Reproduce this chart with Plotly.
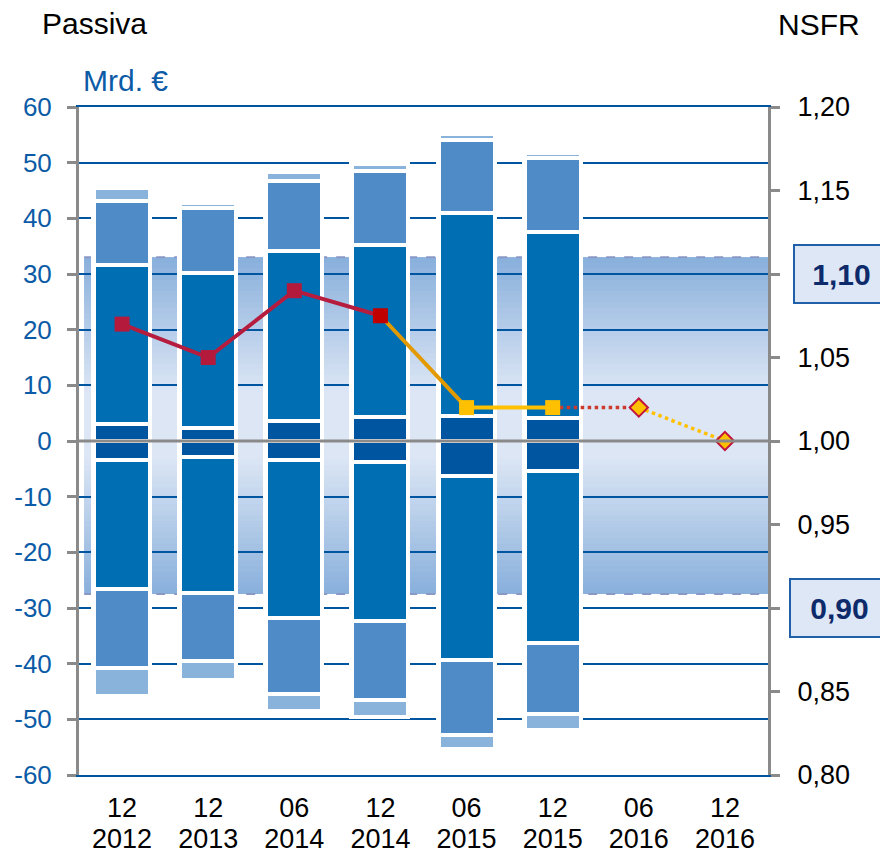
import plotly.graph_objects as go

# ---------------- data ----------------
months = ["12", "12", "06", "12", "06", "12", "06", "12"]
years = ["2012", "2013", "2014", "2014", "2015", "2015", "2016", "2016"]

# Passiva components (Mrd. €), stacked outward from zero
pos_darkest = [3.1, 2.3, 3.6, 4.4, 4.55, 4.2, None, None]
pos_dark = [28.5, 27.8, 30.6, 30.9, 36.4, 33.4, None, None]
pos_medium = [11.5, 11.7, 12.55, 13.15, 13.05, 13.3, None, None]
pos_light = [2.4, 0.9, 1.6, 1.3, 1.1, 0.9, None, None]

neg_darkest = [-3.4, -2.8, -3.4, -3.85, -6.3, -5.3, None, None]
neg_dark = [-23.2, -24.45, -28.45, -28.4, -33.1, -30.9, None, None]
neg_medium = [-14.1, -12.25, -13.6, -14.2, -13.5, -12.8, None, None]
neg_light = [-5.1, -3.4, -3.05, -3.15, -2.5, -2.9, None, None]

# NSFR ratio (right axis)
nsfr = [1.07, 1.05, 1.09, 1.075, 1.02, 1.02, 1.02, 1.00]

# target corridor (left-axis units)
band_top = 33.0
band_bottom = -27.5

left_ticks = [-60, -50, -40, -30, -20, -10, 0, 10, 20, 30, 40, 50, 60]
left_ticktext = ["-60", "-50", "-40", "-30", "-20", "-10", "0",
                 "10", "20", "30", "40", "50", "60"]
right_ticks = [0.80, 0.85, 0.90, 0.95, 1.00, 1.05, 1.10, 1.15, 1.20]
right_ticktext = ["0,80", "0,85", "", "0,95", "1,00", "1,05", "", "1,15", "1,20"]
boxed_ticks = [1.10, 0.90]
boxed_text = ["1,10", "0,90"]

# ---------------- styling ----------------
FONT = "Liberation Sans, Arial, sans-serif"
C_DARKEST = "#0055a0"
C_DARK = "#006eb3"
C_MED = "#4f8bc6"
C_LIGHT = "#8ab3dc"
GRID = "#0055a0"
GRAY = "#8a8a8a"
BLUE_TXT = "#0b5ba6"

n = len(months)
x = list(range(n))
span = "<span style='font-size:27px'>%s</span>"
categories = [span % m + "<br>" + span % y for m, y in zip(months, years)]

fig = go.Figure()


def stacked(layers):
    cum = [0.0] * n
    out = []
    for layer in layers:
        bases = []
        for i, v in enumerate(layer):
            if v is None:
                bases.append(None)
            else:
                bases.append(cum[i])
                cum[i] += v
        out.append(bases)
    return out, cum


pos_layers = [pos_darkest, pos_dark, pos_medium, pos_light]
neg_layers = [neg_darkest, neg_dark, neg_medium, neg_light]
colors = [C_DARKEST, C_DARK, C_MED, C_LIGHT]
pos_bases, pos_tot = stacked(pos_layers)
neg_bases, neg_tot = stacked(neg_layers)

# white frame behind each stack
fx, fy, fb = [], [], []
for i in range(n):
    if pos_darkest[i] is None:
        continue
    fx.append(x[i])
    fb.append(neg_tot[i] + 0.3)
    fy.append(pos_tot[i] - neg_tot[i] - 0.6)
fig.add_trace(go.Bar(x=fx, y=fy, base=fb, width=0.604,
                     marker=dict(color="white", line=dict(color="white", width=9)),
                     showlegend=False, hoverinfo="skip"))

for layers, bases in ((pos_layers, pos_bases), (neg_layers, neg_bases)):
    for vals, b, col in zip(layers, bases, colors):
        xs = [x[i] for i in range(n) if vals[i] is not None]
        ys = [vals[i] for i in range(n) if vals[i] is not None]
        bs = [b[i] for i in range(n) if vals[i] is not None]
        fig.add_trace(go.Bar(x=xs, y=ys, base=bs, width=0.65,
                             marker=dict(color=col, line=dict(color="white", width=4)),
                             showlegend=False))


# NSFR line pieces
def seg(i0, i1, color, dash="solid", width=4):
    fig.add_trace(go.Scatter(x=x[i0:i1 + 1], y=nsfr[i0:i1 + 1], yaxis="y2",
                             mode="lines", line=dict(color=color, width=width, dash=dash),
                             showlegend=False))


seg(0, 3, "#b51c3d")
seg(3, 4, "#e39a00")
seg(4, 5, "#ffc000")
seg(5, 6, "#cc3a2e", dash="dot", width=3.5)
seg(6, 7, "#ffc000", dash="dot", width=3.5)

fig.add_trace(go.Scatter(x=x[0:3], y=nsfr[0:3], yaxis="y2", mode="markers",
                         marker=dict(symbol="square", size=15, color="#b41a3c"),
                         showlegend=False))
fig.add_trace(go.Scatter(x=x[3:4], y=nsfr[3:4], yaxis="y2", mode="markers",
                         marker=dict(symbol="square", size=15, color="#c00000"),
                         showlegend=False))
fig.add_trace(go.Scatter(x=x[4:6], y=nsfr[4:6], yaxis="y2", mode="markers",
                         marker=dict(symbol="square", size=15, color="#ffc000"),
                         showlegend=False))
fig.add_trace(go.Scatter(x=x[6:8], y=nsfr[6:8], yaxis="y2", mode="markers",
                         marker=dict(symbol="diamond", size=14, color="#ffc000",
                                     line=dict(color="#c0143c", width=2)),
                         showlegend=False))

# ---------------- corridor gradient (shapes below grid) ----------------
shapes = []
light = (220, 230, 245)
dark = (136, 175, 219)
N = 60
step = (band_top - band_bottom) / N
for k in range(N):
    y0 = band_bottom + k * step
    y1 = y0 + step
    ym = (y0 + y1) / 2
    if ym >= 9:
        t = (ym - 9) / (band_top - 9)
    elif ym >= -3:
        t = 0.0
    else:
        t = (-3 - ym) / (-3 - band_bottom)
    c = tuple(round(light[j] + (dark[j] - light[j]) * t) for j in range(3))
    top = min(y1 + step, band_top)
    shapes.append(dict(type="rect", xref="x", yref="y", x0=-0.44, x1=7.5,
                       y0=y0, y1=top, layer="below", line=dict(width=0),
                       fillcolor="rgb(%d,%d,%d)" % c))
for yv in (band_top, band_bottom):
    shapes.append(dict(type="line", xref="x", yref="y", x0=-0.44, x1=7.5,
                       y0=yv, y1=yv, layer="between",
                       line=dict(color="#8a98c6", width=2, dash="dash")))
# zero line on top
shapes.append(dict(type="line", xref="paper", yref="y", x0=0, x1=1, y0=0, y1=0,
                   layer="above", line=dict(color=GRAY, width=3)))

# ---------------- layout ----------------
# page body has an 8px default margin -> shrink figure so it fits the window
OFF = 8
W, H = 888 - OFF, 856 - OFF
PL, PT, PR, PB = 79, 107, 768, 775      # plot area in window pixels
ML, MT = PL - OFF, PT - OFF
PW, PH = PR - PL, PB - PT
MR, MB = W - ML - PW, H - MT - PH


def px(xp):
    return (xp - PL) / PW


def py(yp):
    return (PB - yp) / PH


annotations = [
    dict(text="Passiva", x=px(40), y=py(23), xref="paper", yref="paper",
         xanchor="left", yanchor="middle", showarrow=False,
         font=dict(size=30, color="black", family=FONT)),
    dict(text="NSFR", x=px(819), y=py(25), xref="paper", yref="paper",
         xanchor="center", yanchor="middle", showarrow=False,
         font=dict(size=30, color="black", family=FONT)),
    dict(text="Mrd. €", x=px(81), y=py(80), xref="paper", yref="paper",
         xanchor="left", yanchor="middle", showarrow=False,
         font=dict(size=30, color=BLUE_TXT, family=FONT)),
]
for val, txt, left in zip(boxed_ticks, boxed_text, (793, 789)):
    annotations.append(dict(text="<b>%s</b>" % txt, x=px(left), y=val,
                            xref="paper", yref="y2", xanchor="left", yanchor="middle",
                            showarrow=False, width=(888 - left) - 2, height=56,
                            borderpad=0, borderwidth=2, bordercolor="#2060a8",
                            bgcolor="#dde7f5", align="center",
                            font=dict(size=30, color="#0d2a6b", family=FONT)))

fig.update_layout(
    width=W, height=H,
    margin=dict(l=ML, r=MR, t=MT, b=MB, pad=0),
    paper_bgcolor="white", plot_bgcolor="white",
    barmode="overlay", bargap=0,
    showlegend=False,
    font=dict(family=FONT),
    xaxis=dict(range=[-0.5, 7.5], tickvals=x, ticktext=categories,
               automargin=False,
               showgrid=False, zeroline=False, showline=True, mirror=True,
               linecolor=GRID, linewidth=2, ticks="", ticklabelstandoff=11,
               tickfont=dict(size=24, color="black", family=FONT)),
    yaxis=dict(range=[-60, 60], tickvals=left_ticks, ticktext=left_ticktext,
               automargin=False,
               showgrid=True, gridcolor=GRID, gridwidth=2, zeroline=False,
               showline=True, linecolor=GRAY, linewidth=3,
               ticks="outside", ticklen=9, tickwidth=3, tickcolor=GRAY,
               ticklabelstandoff=10,
               tickfont=dict(size=26, color=BLUE_TXT, family=FONT)),
    yaxis2=dict(range=[0.8, 1.2], overlaying="y", side="right",
                tickvals=right_ticks, ticktext=right_ticktext,
                automargin=False,
                showgrid=False, zeroline=False, showline=True,
                linecolor=GRAY, linewidth=3, ticks="outside", ticklen=9,
                tickwidth=3, tickcolor=GRAY, ticklabelstandoff=12,
                tickfont=dict(size=27, color="black", family=FONT)),
    shapes=shapes,
    annotations=annotations,
)

fig.write_html("out.html")
